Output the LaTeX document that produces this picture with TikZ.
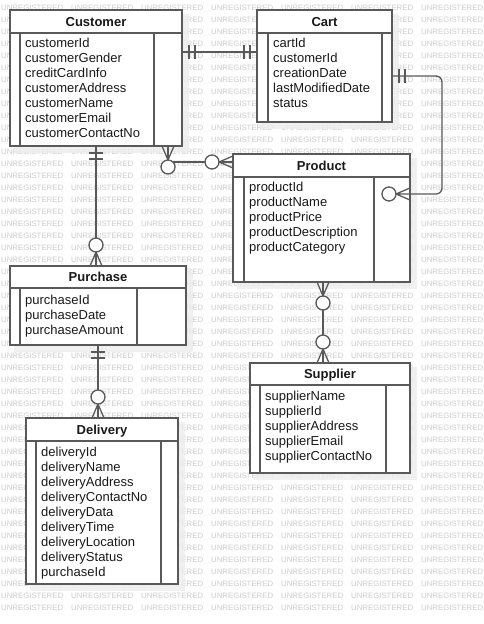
\documentclass[tikz,border=0pt]{standalone}
\usepackage{fontspec}
\setmainfont{Liberation Sans}
\usetikzlibrary{calc}

\tikzset{
  x=1pt, y=-1pt,
  wm/.style={text=black!20, font=\fontsize{7.8}{8}\selectfont, inner sep=0pt, anchor=west},
  entity/.style={draw=black!65, line width=1.3pt, fill=white, inner sep=0pt, outer sep=0pt, anchor=north west},
  divider/.style={draw=black!65, line width=1.3pt},
  conn/.style={draw=black!65, line width=1.3pt},
  etitle/.style={font=\fontsize{13}{15}\selectfont\bfseries, text=black!90, inner sep=0pt, anchor=base},
  attr/.style={font=\fontsize{13}{15}\selectfont, text=black!90, inner sep=0pt, anchor=base west},
  boxshade/.style={fill=black!7, opacity=0.8},
  % exactly one: two bars across the connector
  pics/mandone/.style={code={\draw[conn] (7,-7) -- (7,7) (13,-7) -- (13,7);}},
  % zero or many: crow's foot plus open circle
  pics/zeromany/.style={code={
     \draw[conn] (0,-6) -- (14,0) -- (0,6) (0,0) -- (14,0);
     \draw[conn, fill=white] (21,0) circle[radius=7];}},
}

% #1 name, #2 left, #3 top, #4 right, #5 bottom, #6 header bottom,
% #7 left rule, #8 right rule, #9 title
\newcommand\erbox[9]{%
  \fill[boxshade] (#2+4,#3+4) rectangle (#4+7,#5+7);
  \node[entity, minimum width={#4-#2}, minimum height={#5-#3}] (#1) at (#2,#3) {};
  \draw[divider] (#2,#6) -- (#4,#6) (#7,#6) -- (#7,#5) (#8,#6) -- (#8,#5);
  \node[etitle] (#1-title) at ({(#2+#4)/2},{(#3+#6)/2+4.7}) {#9};
}
% #1 name, #2 text x, #3 first baseline, #4 attribute list
\newcommand\erattrs[4]{%
  \foreach \a [count=\i] in {#4}
    \node[attr] (#1-a\i) at (#2,{#3+15*\i-15}) {\a};
}
% 1 when a watermark word at (#1,#2) lies wholly inside the box #3..#6
\newcommand\inbox[6]{(#1>=#3 && #1+63<=#5 && #2-4>=#4 && #2+4<=#6)}

\begin{document}
\begin{tikzpicture}
\useasboundingbox (0,0) rectangle (483,624);
\fill[white] (0,0) rectangle (483,624);

% background watermark (words hidden under the boxes are skipped)
\foreach \r in {0,...,50}
  \foreach \c in {0,...,6}{
    \pgfmathsetmacro\wx{1+70*\c}
    \pgfmathsetmacro\wy{8+12*\r}
    \pgfmathtruncatemacro\hide{
      \inbox{\wx}{\wy}{10}{10}{182}{146} ||
      \inbox{\wx}{\wy}{257}{10}{392}{122} ||
      \inbox{\wx}{\wy}{233}{154}{410}{282} ||
      \inbox{\wx}{\wy}{10}{266}{186}{345} ||
      \inbox{\wx}{\wy}{250}{363}{410}{473} ||
      \inbox{\wx}{\wy}{26}{418}{178}{584}}
    \ifnum\hide=0
      \node[wm] (wm-\r-\c) at (\wx,\wy) {UNREGISTERED};
    \fi
  }

% entities
\erbox{cust}{10}{10}{182}{146}{33}{20}{154}{Customer}
\erattrs{cust}{25}{47.5}{customerId,customerGender,creditCardInfo,customerAddress,customerName,customerEmail,customerContactNo}

\erbox{cart}{257}{10}{392}{122}{33}{268}{382}{Cart}
\erattrs{cart}{273}{47.5}{cartId,customerId,creationDate,lastModifiedDate,status}

\erbox{prod}{233}{154}{410}{282}{177}{244}{374}{Product}
\erattrs{prod}{249}{191.7}{productId,productName,productPrice,productDescription,productCategory}

\erbox{purch}{10}{266}{186}{345}{288}{20}{137}{Purchase}
\erattrs{purch}{25}{304.5}{purchaseId,purchaseDate,purchaseAmount}

\erbox{supp}{250}{363}{410}{473}{385}{260}{386}{Supplier}
\erattrs{supp}{265}{400}{supplierName,supplierId,supplierAddress,supplierEmail,supplierContactNo}

\erbox{deliv}{26}{418}{178}{584}{441}{36}{161}{Delivery}
\erattrs{deliv}{41}{456.5}{deliveryId,deliveryName,deliveryAddress,deliveryContactNo,deliveryData,deliveryTime,deliveryLocation,deliveryStatus,purchaseId}

% relationship end points
\coordinate (cc) at ([yshift=-42pt]cust.north east);
\coordinate (cp) at (cust.south);
\coordinate (pd) at (purch.south);
\coordinate (cq) at ([xshift=72pt]cust.south);
\coordinate (pq) at ([yshift=-8pt]prod.north west);
\coordinate (ka) at ([yshift=-66pt]cart.north east);
\coordinate (kb) at ([yshift=-40pt]prod.north east);
\coordinate (ps) at ([xshift=1.5pt]prod.south);

% connectors
\draw[conn] (cc) -- (cc -| cart.west);
\draw[conn] (cp) -- (cp |- purch.north);
\draw[conn] (pd) -- (pd |- deliv.north);
\draw[conn] (cq) |- (pq);
\draw[conn, rounded corners=6pt] (ka) -- ++(50,0) |- (kb);
\draw[conn] (ps) -- (ps |- supp.north);

% cardinality markers
\pic at (cc) {mandone};
\pic[rotate=180] at (cc -| cart.west) {mandone};
\pic[rotate=-90] at (cp) {mandone};
\pic[rotate=90] at (cp |- purch.north) {zeromany};
\pic[rotate=-90] at (pd) {mandone};
\pic[rotate=90] at (pd |- deliv.north) {zeromany};
\pic[rotate=-90] at (cq) {zeromany};
\pic[rotate=180] at (pq) {zeromany};
\pic at (ka) {mandone};
\pic[rotate=180] at (kb) {zeromany};
\pic[rotate=-90] at (ps) {zeromany};
\pic[rotate=90] at (ps |- supp.north) {zeromany};
\end{tikzpicture}
\end{document}
